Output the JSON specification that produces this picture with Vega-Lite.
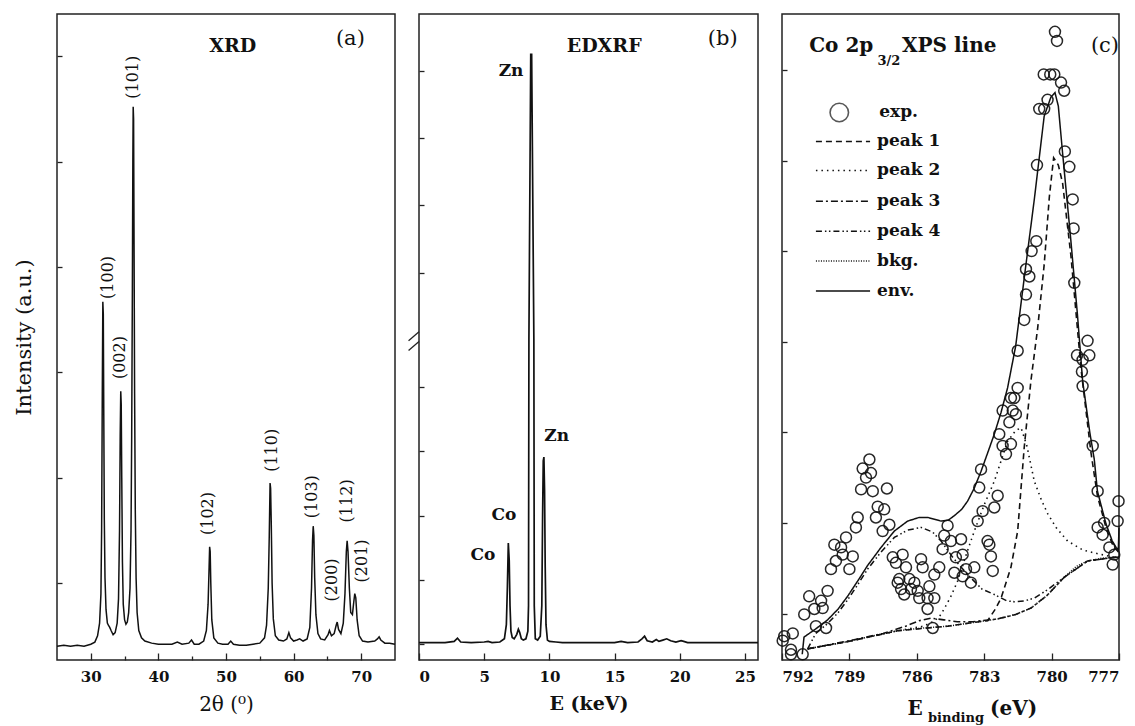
{
  "$schema": "https://vega.github.io/schema/vega-lite/v6.json",
  "padding": {"left": 12, "top": 13, "right": 0, "bottom": 0},
  "bounds": "flush",
  "spacing": 24,
  "config": {
    "view": {"stroke": "#222", "strokeWidth": 1.5},
    "font": "DejaVu Serif",
    "axis": {
      "domain": false, "grid": false,
      "labelFont": "DejaVu Serif", "labelFontSize": 15, "labelFontWeight": "bold", "labelColor": "#111",
      "tickColor": "#222", "tickWidth": 1.3,
      "titleFont": "DejaVu Serif", "titleColor": "#111", "titleFontWeight": "normal"
    },
    "text": {"color": "#111"}
  },
  "datasets": {
    "xrd": [
      {"x":25.0,"y":0.40},{"x":26.0,"y":0.41},{"x":27.0,"y":0.40},{"x":28.0,"y":0.41},{"x":29.0,"y":0.40},{"x":30.0,"y":0.42},
      {"x":30.6,"y":0.44},{"x":31.0,"y":0.50},{"x":31.3,"y":0.62},{"x":31.5,"y":0.90},{"x":31.6,"y":1.50},{"x":31.7,"y":2.80},
      {"x":31.78,"y":3.67},{"x":31.85,"y":3.55},{"x":31.92,"y":2.60},{"x":32.0,"y":1.60},{"x":32.1,"y":1.05},{"x":32.25,"y":0.75},
      {"x":32.45,"y":0.62},{"x":32.6,"y":0.60},{"x":32.8,"y":0.58},{"x":33.0,"y":0.55},{"x":33.3,"y":0.51},{"x":33.6,"y":0.53},
      {"x":33.9,"y":0.62},{"x":34.1,"y":0.85},{"x":34.25,"y":1.50},{"x":34.35,"y":2.40},{"x":34.43,"y":2.82},{"x":34.5,"y":2.70},
      {"x":34.58,"y":2.00},{"x":34.68,"y":1.20},{"x":34.8,"y":0.80},{"x":35.0,"y":0.65},{"x":35.2,"y":0.61},{"x":35.4,"y":0.63},
      {"x":35.6,"y":0.72},{"x":35.8,"y":0.95},{"x":35.95,"y":1.50},{"x":36.05,"y":2.40},{"x":36.15,"y":3.80},{"x":36.22,"y":5.00},
      {"x":36.27,"y":5.52},{"x":36.33,"y":5.40},{"x":36.4,"y":4.20},{"x":36.48,"y":2.80},{"x":36.58,"y":1.70},{"x":36.7,"y":1.05},
      {"x":36.85,"y":0.72},{"x":37.1,"y":0.55},{"x":37.5,"y":0.48},{"x":38.0,"y":0.45},{"x":39.0,"y":0.43},{"x":40.0,"y":0.42},
      {"x":41.0,"y":0.42},{"x":42.0,"y":0.42},{"x":42.8,"y":0.44},{"x":43.5,"y":0.42},{"x":44.5,"y":0.43},{"x":44.9,"y":0.46},
      {"x":45.3,"y":0.42},{"x":46.0,"y":0.42},{"x":46.7,"y":0.45},{"x":47.1,"y":0.55},{"x":47.35,"y":0.80},{"x":47.5,"y":1.15},
      {"x":47.58,"y":1.345},{"x":47.66,"y":1.30},{"x":47.75,"y":1.00},{"x":47.9,"y":0.65},{"x":48.2,"y":0.48},{"x":48.8,"y":0.43},
      {"x":49.5,"y":0.42},{"x":50.3,"y":0.42},{"x":50.7,"y":0.45},{"x":51.1,"y":0.42},{"x":52.0,"y":0.41},{"x":53.0,"y":0.41},
      {"x":54.0,"y":0.42},{"x":55.0,"y":0.43},{"x":55.7,"y":0.48},{"x":56.0,"y":0.60},{"x":56.25,"y":0.95},{"x":56.4,"y":1.45},
      {"x":56.52,"y":1.95},{"x":56.6,"y":1.90},{"x":56.7,"y":1.55},{"x":56.82,"y":1.00},{"x":57.0,"y":0.66},{"x":57.3,"y":0.50},
      {"x":57.8,"y":0.46},{"x":58.5,"y":0.45},{"x":59.0,"y":0.47},{"x":59.3,"y":0.53},{"x":59.55,"y":0.48},{"x":60.0,"y":0.45},
      {"x":60.5,"y":0.46},{"x":60.9,"y":0.47},{"x":61.4,"y":0.45},{"x":62.0,"y":0.47},{"x":62.4,"y":0.58},{"x":62.65,"y":0.95},
      {"x":62.8,"y":1.40},{"x":62.9,"y":1.54},{"x":63.0,"y":1.45},{"x":63.12,"y":1.05},{"x":63.3,"y":0.70},{"x":63.6,"y":0.52},
      {"x":64.0,"y":0.47},{"x":64.6,"y":0.46},{"x":65.1,"y":0.51},{"x":65.3,"y":0.55},{"x":65.6,"y":0.50},{"x":66.0,"y":0.52},
      {"x":66.3,"y":0.60},{"x":66.45,"y":0.63},{"x":66.65,"y":0.56},{"x":67.0,"y":0.52},{"x":67.35,"y":0.62},{"x":67.6,"y":0.90},
      {"x":67.8,"y":1.30},{"x":67.92,"y":1.40},{"x":68.05,"y":1.30},{"x":68.25,"y":0.95},{"x":68.45,"y":0.72},{"x":68.7,"y":0.70},
      {"x":68.9,"y":0.82},{"x":69.05,"y":0.90},{"x":69.2,"y":0.86},{"x":69.4,"y":0.65},{"x":69.7,"y":0.50},{"x":70.2,"y":0.45},
      {"x":71.0,"y":0.44},{"x":72.0,"y":0.45},{"x":72.4,"y":0.47},{"x":72.65,"y":0.49},{"x":72.9,"y":0.46},{"x":73.5,"y":0.43},
      {"x":74.2,"y":0.43},{"x":75.0,"y":0.42}
    ],
    "edxrf": [
      {"x":0.0,"y":0.02},{"x":1.0,"y":0.02},{"x":2.0,"y":0.02},{"x":2.7,"y":0.04},{"x":2.95,"y":0.09},{"x":3.2,"y":0.03},
      {"x":4.0,"y":0.02},{"x":5.0,"y":0.03},{"x":5.3,"y":0.04},{"x":5.6,"y":0.02},{"x":6.2,"y":0.03},{"x":6.55,"y":0.08},
      {"x":6.7,"y":0.3},{"x":6.78,"y":0.9},{"x":6.85,"y":1.57},{"x":6.92,"y":1.30},{"x":6.98,"y":0.6},{"x":7.05,"y":0.2},
      {"x":7.15,"y":0.1},{"x":7.3,"y":0.08},{"x":7.5,"y":0.15},{"x":7.62,"y":0.23},{"x":7.72,"y":0.18},{"x":7.85,"y":0.08},
      {"x":8.0,"y":0.06},{"x":8.2,"y":0.08},{"x":8.35,"y":0.2},{"x":8.40,"y":0.6},{"x":8.43,"y":4.75},{"x":8.57,"y":9.18},
      {"x":8.64,"y":9.18},{"x":8.81,"y":4.75},{"x":8.84,"y":0.6},{"x":8.92,"y":0.08},{"x":9.1,"y":0.06},{"x":9.3,"y":0.12},
      {"x":9.42,"y":0.6},{"x":9.48,"y":2.0},{"x":9.53,"y":2.85},{"x":9.58,"y":2.91},{"x":9.63,"y":2.4},{"x":9.68,"y":1.2},
      {"x":9.74,"y":0.3},{"x":9.85,"y":0.06},{"x":10.0,"y":0.04},{"x":10.5,"y":0.03},{"x":11.0,"y":0.02},{"x":12.0,"y":0.02},
      {"x":13.0,"y":0.02},{"x":14.0,"y":0.02},{"x":15.0,"y":0.02},{"x":15.5,"y":0.04},{"x":16.0,"y":0.02},{"x":16.8,"y":0.03},
      {"x":17.1,"y":0.08},{"x":17.3,"y":0.12},{"x":17.5,"y":0.05},{"x":17.9,"y":0.03},{"x":18.2,"y":0.07},{"x":18.4,"y":0.04},
      {"x":18.7,"y":0.06},{"x":19.0,"y":0.08},{"x":19.3,"y":0.05},{"x":19.7,"y":0.03},{"x":20.1,"y":0.05},{"x":20.3,"y":0.04},
      {"x":20.6,"y":0.02},{"x":21.5,"y":0.02},{"x":23.0,"y":0.02},{"x":24.0,"y":0.02},{"x":25.0,"y":0.02},{"x":26.0,"y":0.02}
    ],
    "xpsPoints": [
      {"x":788.11,"y":2.70},{"x":788.41,"y":2.60},{"x":788.04,"y":2.55},{"x":788.26,"y":2.50},{"x":788.48,"y":2.37},{"x":787.96,"y":2.35},
      {"x":787.33,"y":2.38},{"x":787.74,"y":2.18},{"x":787.45,"y":2.15},{"x":787.82,"y":2.06},{"x":787.22,"y":1.98},{"x":787.52,"y":1.91},
      {"x":788.63,"y":2.06},{"x":788.71,"y":1.95},{"x":789.15,"y":1.84},{"x":789.67,"y":1.76},{"x":789.37,"y":1.73},{"x":788.85,"y":1.63},
      {"x":789.30,"y":1.65},{"x":789.60,"y":1.58},{"x":789.82,"y":1.49},{"x":789.00,"y":1.49},{"x":790.79,"y":1.19},{"x":790.26,"y":1.14},
      {"x":789.97,"y":1.25},{"x":790.56,"y":1.05},{"x":790.19,"y":1.06},{"x":791.01,"y":0.99},{"x":790.49,"y":0.86},{"x":790.04,"y":0.84},
      {"x":791.52,"y":0.78},{"x":791.60,"y":0.55},{"x":791.08,"y":0.55},{"x":791.97,"y":0.70},{"x":787.07,"y":1.62},{"x":786.93,"y":1.56},
      {"x":786.63,"y":1.65},{"x":786.48,"y":1.51},{"x":786.78,"y":1.38},{"x":786.33,"y":1.38},{"x":786.70,"y":1.27},{"x":786.26,"y":1.27},
      {"x":786.11,"y":1.34},{"x":785.96,"y":1.25},{"x":785.81,"y":1.60},{"x":785.74,"y":1.51},{"x":785.52,"y":1.17},{"x":785.22,"y":1.17},
      {"x":785.52,"y":1.05},{"x":785.44,"y":1.30},{"x":785.00,"y":1.51},{"x":785.29,"y":0.84},{"x":784.63,"y":1.97},{"x":784.78,"y":1.86},
      {"x":784.48,"y":1.80},{"x":784.85,"y":1.71},{"x":784.03,"y":1.82},{"x":784.26,"y":1.62},{"x":783.96,"y":1.65},{"x":784.33,"y":1.45},
      {"x":783.81,"y":1.49},{"x":783.44,"y":1.51},{"x":783.59,"y":1.34},{"x":783.96,"y":1.41},{"x":783.29,"y":2.02},{"x":783.07,"y":2.13},
      {"x":782.55,"y":2.17},{"x":782.40,"y":2.30},{"x":782.85,"y":1.80},{"x":782.77,"y":1.76},{"x":782.70,"y":1.63},{"x":782.62,"y":1.47},
      {"x":783.14,"y":2.59},{"x":783.22,"y":2.39},{"x":782.33,"y":2.98},{"x":782.18,"y":2.85},{"x":781.81,"y":2.87},{"x":782.03,"y":2.76},
      {"x":781.59,"y":3.20},{"x":781.66,"y":3.38},{"x":781.51,"y":3.49},{"x":778.17,"y":2.85},{"x":777.95,"y":2.35},{"x":777.95,"y":1.95},
      {"x":777.66,"y":2.00},{"x":777.73,"y":1.87},{"x":777.43,"y":1.73},{"x":777.21,"y":1.65},{"x":777.28,"y":1.54},{"x":777.06,"y":2.02},
      {"x":777.02,"y":2.24},{"x":778.62,"y":3.51},{"x":779.85,"y":7.42},{"x":779.76,"y":7.32},{"x":780.35,"y":6.95},{"x":780.06,"y":6.95},
      {"x":779.88,"y":6.95},{"x":779.58,"y":6.86},{"x":779.44,"y":6.77},{"x":780.18,"y":6.67},{"x":780.55,"y":6.57},{"x":780.33,"y":6.57},
      {"x":779.41,"y":6.10},{"x":779.21,"y":5.93},{"x":780.65,"y":5.95},{"x":779.06,"y":5.57},{"x":779.02,"y":5.25},{"x":780.68,"y":5.11},
      {"x":780.89,"y":5.00},{"x":781.14,"y":4.80},{"x":780.99,"y":4.72},{"x":781.14,"y":4.52},{"x":781.22,"y":4.24},{"x":778.99,"y":4.65},
      {"x":778.40,"y":4.01},{"x":778.87,"y":3.85},{"x":778.62,"y":3.80},{"x":778.32,"y":3.85},{"x":778.65,"y":3.67},{"x":781.51,"y":3.90},
      {"x":781.81,"y":3.38},{"x":782.18,"y":3.24},{"x":781.73,"y":3.24},{"x":781.88,"y":3.11},{"x":791.90,"y":0.75},{"x":791.60,"y":0.60},
      {"x":786.85,"y":1.34},{"x":786.56,"y":1.21},{"x":785.22,"y":1.43},{"x":785.89,"y":1.17}
    ],
    "xpsLines": [
      {"s":"env.","x":791.10,"y":0.55},{"s":"env.","x":791.02,"y":0.74},{"s":"env.","x":790.5,"y":0.83},{"s":"env.","x":789.97,"y":0.93},
      {"s":"env.","x":789.5,"y":1.05},{"s":"env.","x":789.08,"y":1.19},{"s":"env.","x":788.6,"y":1.37},{"s":"env.","x":788.19,"y":1.53},
      {"s":"env.","x":787.59,"y":1.73},{"s":"env.","x":787.0,"y":1.91},{"s":"env.","x":786.41,"y":2.02},{"s":"env.","x":785.9,"y":2.06},
      {"s":"env.","x":785.5,"y":2.06},{"s":"env.","x":784.92,"y":2.02},{"s":"env.","x":784.6,"y":2.03},{"s":"env.","x":784.33,"y":2.08},
      {"s":"env.","x":784.0,"y":2.15},{"s":"env.","x":783.74,"y":2.24},{"s":"env.","x":783.45,"y":2.38},{"s":"env.","x":783.14,"y":2.57},
      {"s":"env.","x":782.85,"y":2.77},{"s":"env.","x":782.55,"y":2.98},{"s":"env.","x":782.25,"y":3.22},{"s":"env.","x":781.96,"y":3.49},
      {"s":"env.","x":781.6,"y":3.95},{"s":"env.","x":781.22,"y":4.70},{"s":"env.","x":780.77,"y":5.57},{"s":"env.","x":780.33,"y":6.49},
      {"s":"env.","x":780.03,"y":6.70},{"s":"env.","x":779.85,"y":6.75},{"s":"env.","x":779.7,"y":6.6},{"s":"env.","x":779.51,"y":6.08},
      {"s":"env.","x":779.14,"y":5.11},{"s":"env.","x":778.85,"y":4.3},{"s":"env.","x":778.62,"y":3.57},{"s":"env.","x":778.3,"y":3.0},
      {"s":"env.","x":778.1,"y":2.7},{"s":"env.","x":777.96,"y":2.35},{"s":"env.","x":777.58,"y":1.99},{"s":"env.","x":777.3,"y":1.80},
      {"s":"env.","x":777.13,"y":1.73},{"s":"env.","x":777.03,"y":1.70},{"s":"env.","x":777.0,"y":1.95},

      {"s":"bkg.","x":790.86,"y":0.61},{"s":"bkg.","x":790.0,"y":0.65},{"s":"bkg.","x":789.08,"y":0.69},{"s":"bkg.","x":788.0,"y":0.75},
      {"s":"bkg.","x":786.85,"y":0.81},{"s":"bkg.","x":785.7,"y":0.84},{"s":"bkg.","x":784.63,"y":0.86},{"s":"bkg.","x":783.5,"y":0.90},
      {"s":"bkg.","x":782.4,"y":0.94},{"s":"bkg.","x":781.6,"y":0.99},{"s":"bkg.","x":780.92,"y":1.06},{"s":"bkg.","x":780.2,"y":1.20},
      {"s":"bkg.","x":779.44,"y":1.40},{"s":"bkg.","x":778.9,"y":1.52},{"s":"bkg.","x":778.4,"y":1.58},{"s":"bkg.","x":777.8,"y":1.61},
      {"s":"bkg.","x":777.21,"y":1.62},{"s":"bkg.","x":777.0,"y":1.62},

      {"s":"peak 1","x":790.86,"y":0.61},{"s":"peak 1","x":789.08,"y":0.69},{"s":"peak 1","x":786.85,"y":0.81},{"s":"peak 1","x":784.63,"y":0.86},
      {"s":"peak 1","x":783.5,"y":0.90},{"s":"peak 1","x":782.85,"y":0.92},{"s":"peak 1","x":782.5,"y":1.05},{"s":"peak 1","x":782.25,"y":1.17},
      {"s":"peak 1","x":781.81,"y":1.51},{"s":"peak 1","x":781.51,"y":1.91},{"s":"peak 1","x":781.22,"y":2.83},{"s":"peak 1","x":780.92,"y":3.57},
      {"s":"peak 1","x":780.62,"y":4.15},{"s":"peak 1","x":780.33,"y":4.85},{"s":"peak 1","x":780.1,"y":5.6},{"s":"peak 1","x":779.91,"y":6.03},
      {"s":"peak 1","x":779.7,"y":5.95},{"s":"peak 1","x":779.51,"y":5.75},{"s":"peak 1","x":779.14,"y":4.95},{"s":"peak 1","x":778.69,"y":3.70},
      {"s":"peak 1","x":778.25,"y":2.78},{"s":"peak 1","x":777.96,"y":2.30},{"s":"peak 1","x":777.58,"y":1.95},{"s":"peak 1","x":777.3,"y":1.77},
      {"s":"peak 1","x":777.03,"y":1.68},

      {"s":"peak 2","x":790.86,"y":0.61},{"s":"peak 2","x":789.08,"y":0.69},{"s":"peak 2","x":786.85,"y":0.81},{"s":"peak 2","x":785.7,"y":0.86},
      {"s":"peak 2","x":785.2,"y":0.92},{"s":"peak 2","x":784.92,"y":0.99},{"s":"peak 2","x":784.5,"y":1.18},{"s":"peak 2","x":784.18,"y":1.36},
      {"s":"peak 2","x":783.8,"y":1.65},{"s":"peak 2","x":783.44,"y":1.91},{"s":"peak 2","x":783.0,"y":2.2},{"s":"peak 2","x":782.55,"y":2.46},
      {"s":"peak 2","x":781.96,"y":2.90},{"s":"peak 2","x":781.6,"y":3.02},{"s":"peak 2","x":781.36,"y":3.05},{"s":"peak 2","x":781.1,"y":2.85},
      {"s":"peak 2","x":780.77,"y":2.46},{"s":"peak 2","x":780.45,"y":2.25},{"s":"peak 2","x":780.17,"y":2.10},{"s":"peak 2","x":779.8,"y":1.95},
      {"s":"peak 2","x":779.29,"y":1.80},{"s":"peak 2","x":778.6,"y":1.70},{"s":"peak 2","x":777.95,"y":1.66},{"s":"peak 2","x":777.21,"y":1.62},
      {"s":"peak 2","x":777.0,"y":1.62},

      {"s":"peak 3","x":790.86,"y":0.61},{"s":"peak 3","x":789.0,"y":0.70},{"s":"peak 3","x":787.5,"y":0.78},{"s":"peak 3","x":786.5,"y":0.86},
      {"s":"peak 3","x":785.9,"y":0.92},{"s":"peak 3","x":785.37,"y":0.95},{"s":"peak 3","x":784.8,"y":0.93},{"s":"peak 3","x":784.2,"y":0.91},
      {"s":"peak 3","x":783.5,"y":0.91},{"s":"peak 3","x":782.4,"y":0.94},{"s":"peak 3","x":781.6,"y":0.99},{"s":"peak 3","x":780.92,"y":1.06},
      {"s":"peak 3","x":780.2,"y":1.20},{"s":"peak 3","x":779.44,"y":1.40},{"s":"peak 3","x":778.4,"y":1.58},{"s":"peak 3","x":777.21,"y":1.62},
      {"s":"peak 3","x":777.0,"y":1.62},

      {"s":"peak 4","x":790.86,"y":0.61},{"s":"peak 4","x":790.5,"y":0.78},{"s":"peak 4","x":789.97,"y":0.89},{"s":"peak 4","x":789.5,"y":1.01},
      {"s":"peak 4","x":789.08,"y":1.15},{"s":"peak 4","x":788.6,"y":1.33},{"s":"peak 4","x":788.19,"y":1.49},{"s":"peak 4","x":787.59,"y":1.68},
      {"s":"peak 4","x":787.0,"y":1.84},{"s":"peak 4","x":786.41,"y":1.92},{"s":"peak 4","x":785.8,"y":1.95},{"s":"peak 4","x":785.3,"y":1.90},
      {"s":"peak 4","x":784.92,"y":1.80},{"s":"peak 4","x":784.4,"y":1.62},{"s":"peak 4","x":783.74,"y":1.43},{"s":"peak 4","x":783.1,"y":1.27},
      {"s":"peak 4","x":782.55,"y":1.21},{"s":"peak 4","x":782.0,"y":1.14},{"s":"peak 4","x":781.66,"y":1.13},{"s":"peak 4","x":781.2,"y":1.14},
      {"s":"peak 4","x":780.77,"y":1.17},{"s":"peak 4","x":780.2,"y":1.26},{"s":"peak 4","x":779.44,"y":1.40},{"s":"peak 4","x":778.4,"y":1.58},
      {"s":"peak 4","x":777.21,"y":1.62},{"s":"peak 4","x":777.0,"y":1.62}
    ]
  },
  "hconcat": [
    {
      "width": 338, "height": 646,
      "layer": [
        {
          "data": {"name": "xrd"},
          "mark": {"type": "line", "color": "#111", "strokeWidth": 1.5},
          "encoding": {
            "x": {"field": "x", "type": "quantitative",
              "scale": {"domain": [25, 75], "nice": false, "zero": false},
              "axis": {"values": [30,35,40,45,50,55,60,65,70], "title": "2θ (⁰)",
                "labelExpr": "datum.value % 10 === 0 ? datum.label : ''",
                "tickSize": {"condition": {"test": "datum.value % 10 === 0", "value": -7}, "value": -4},
                "labelPadding": 16, "titleFontSize": 20, "titlePadding": 10}},
            "y": {"field": "y", "type": "quantitative",
              "scale": {"domain": [0.27, 6.4], "nice": false, "zero": false},
              "axis": {"values": [1,2,3,4,5,6], "labels": false, "tickSize": -5,
                "title": "Intensity (a.u.)", "titleFontSize": 21, "titlePadding": 22}}
          }
        },
        {
          "data": {"values": [
            {"x":32.5,"y":3.90,"t":"(100)"},{"x":34.26,"y":3.14,"t":"(002)"},{"x":36.18,"y":5.80,"t":"(101)"},
            {"x":47.35,"y":1.66,"t":"(102)"},{"x":56.76,"y":2.26,"t":"(110)"},{"x":62.79,"y":1.82,"t":"(103)"},
            {"x":65.74,"y":1.03,"t":"(200)"},{"x":67.94,"y":1.78,"t":"(112)"},{"x":70.15,"y":1.21,"t":"(201)"}
          ]},
          "mark": {"type": "text", "angle": 270, "fontSize": 16, "align": "center", "baseline": "middle"},
          "encoding": {"x": {"field": "x", "type": "quantitative"}, "y": {"field": "y", "type": "quantitative"}, "text": {"field": "t"}}
        },
        {
          "data": {"values": [{"x":51.0,"y":6.10,"t":"XRD"}]},
          "mark": {"type": "text", "fontSize": 19, "fontWeight": "bold", "align": "center", "baseline": "middle"},
          "encoding": {"x": {"field": "x", "type": "quantitative"}, "y": {"field": "y", "type": "quantitative"}, "text": {"field": "t"}}
        },
        {
          "data": {"values": [{"x":68.4,"y":6.16,"t":"(a)"}]},
          "mark": {"type": "text", "fontSize": 21, "align": "center", "baseline": "middle"},
          "encoding": {"x": {"field": "x", "type": "quantitative"}, "y": {"field": "y", "type": "quantitative"}, "text": {"field": "t"}}
        }
      ]
    },
    {
      "width": 339, "height": 646,
      "layer": [
        {
          "data": {"name": "edxrf"},
          "mark": {"type": "line", "color": "#111", "strokeWidth": 1.7},
          "encoding": {
            "x": {"field": "x", "type": "quantitative",
              "scale": {"domain": [0, 26], "nice": false, "zero": false},
              "axis": {"values": [0,2.5,5,7.5,10,12.5,15,17.5,20,22.5,25], "title": "E (keV)",
                "labelExpr": "datum.value % 5 === 0 ? datum.label : ''",
                "tickSize": {"condition": {"test": "datum.value % 5 === 0", "value": -7}, "value": -4},
                "labelPadding": 16, "titleFontSize": 19, "titleFontWeight": "bold", "titlePadding": 10}},
            "y": {"field": "y", "type": "quantitative",
              "scale": {"domain": [-0.25, 9.81], "nice": false, "zero": false},
              "axis": {"values": [0,1,2,3,4,5.78,6.84,7.88,8.93], "labels": false, "tickSize": -5, "title": null}}
          }
        },
        {
          "data": {"values": [{"x1":-0.8,"x2":0.0,"y1":4.72,"y2":4.86},{"x1":-0.8,"x2":0.0,"y1":4.57,"y2":4.71}]},
          "mark": {"type": "rule", "color": "#222", "strokeWidth": 1.3},
          "encoding": {"x": {"field": "x1", "type": "quantitative"}, "x2": {"field": "x2"}, "y": {"field": "y1", "type": "quantitative"}, "y2": {"field": "y2"}}
        },
        {
          "data": {"values": [{"x":14.2,"y":9.31,"t":"EDXRF"}]},
          "mark": {"type": "text", "fontSize": 19, "fontWeight": "bold", "align": "center", "baseline": "middle"},
          "encoding": {"x": {"field": "x", "type": "quantitative"}, "y": {"field": "y", "type": "quantitative"}, "text": {"field": "t"}}
        },
        {
          "data": {"values": [{"x":23.3,"y":9.42,"t":"(b)"}]},
          "mark": {"type": "text", "fontSize": 21, "align": "center", "baseline": "middle"},
          "encoding": {"x": {"field": "x", "type": "quantitative"}, "y": {"field": "y", "type": "quantitative"}, "text": {"field": "t"}}
        },
        {
          "data": {"values": [{"x":7.06,"y":8.93,"t":"Zn"},{"x":10.56,"y":3.24,"t":"Zn"},{"x":6.52,"y":2.01,"t":"Co"},{"x":4.91,"y":1.39,"t":"Co"}]},
          "mark": {"type": "text", "fontSize": 17, "fontWeight": "bold", "align": "center", "baseline": "middle"},
          "encoding": {"x": {"field": "x", "type": "quantitative"}, "y": {"field": "y", "type": "quantitative"}, "text": {"field": "t"}}
        }
      ]
    },
    {
      "width": 337, "height": 646,
      "layer": [
        {
          "data": {"name": "xpsLines"},
          "mark": {"type": "line", "color": "#111"},
          "encoding": {
            "x": {"field": "x", "type": "quantitative",
              "scale": {"domain": [777, 792], "reverse": true, "nice": false, "zero": false},
              "axis": {"values": [777,778.5,780,781.5,783,784.5,786,787.5,789,790.5,792], "title": null,
                "labelExpr": "datum.value % 3 === 0 ? datum.label : ''",
                "tickSize": {"condition": {"test": "datum.value % 3 === 0", "value": -7}, "value": -4},
                "labelPadding": 16}},
            "y": {"field": "y", "type": "quantitative",
              "scale": {"domain": [0.487, 7.617], "nice": false, "zero": false},
              "axis": {"values": [1,2,3,4,5,6,7], "labels": false, "tickSize": -5, "title": null}},
            "strokeDash": {"field": "s", "type": "nominal", "legend": null,
              "scale": {"domain": ["peak 1","peak 2","peak 3","peak 4","bkg.","env."],
                "range": [[6,4],[1.5,4],[7,3,2,3],[6,3,1.5,2.5,1.5,3],[1,1.5],[1,0]]}},
            "strokeWidth": {"field": "s", "type": "nominal", "legend": null,
              "scale": {"domain": ["peak 1","peak 2","peak 3","peak 4","bkg.","env."], "range": [1.6,1.5,1.5,1.4,0.8,1.9]}}
          }
        },
        {
          "data": {"name": "xpsPoints"},
          "mark": {"type": "point", "shape": "circle", "filled": false, "color": "#111", "strokeWidth": 1.5, "size": 120, "opacity": 0.9},
          "encoding": {"x": {"field": "x", "type": "quantitative"}, "y": {"field": "y", "type": "quantitative"}}
        },
        {
          "data": {"values": [
            {"s":"peak 1","x1":790.49,"x2":788.08,"y":6.21},{"s":"peak 2","x1":790.49,"x2":788.08,"y":5.89},
            {"s":"peak 3","x1":790.49,"x2":788.08,"y":5.55},{"s":"peak 4","x1":790.49,"x2":788.08,"y":5.22},
            {"s":"bkg.","x1":790.49,"x2":788.08,"y":4.89},{"s":"env.","x1":790.49,"x2":788.08,"y":4.56}
          ]},
          "mark": {"type": "rule", "color": "#111"},
          "encoding": {"x": {"field": "x1", "type": "quantitative"}, "x2": {"field": "x2"}, "y": {"field": "y", "type": "quantitative"},
            "strokeDash": {"field": "s", "type": "nominal", "legend": null},
            "strokeWidth": {"field": "s", "type": "nominal", "legend": null}}
        },
        {
          "data": {"values": [{"x":789.45,"y":6.53}]},
          "mark": {"type": "point", "shape": "circle", "filled": false, "color": "#111", "strokeWidth": 1.6, "size": 340},
          "encoding": {"x": {"field": "x", "type": "quantitative"}, "y": {"field": "y", "type": "quantitative"}}
        },
        {
          "data": {"values": [
            {"x":787.67,"y":6.53,"t":"exp."},{"x":787.77,"y":6.21,"t":"peak 1"},{"x":787.77,"y":5.89,"t":"peak 2"},
            {"x":787.77,"y":5.55,"t":"peak 3"},{"x":787.77,"y":5.22,"t":"peak 4"},{"x":787.77,"y":4.89,"t":"bkg."},{"x":787.77,"y":4.56,"t":"env."}
          ]},
          "mark": {"type": "text", "fontSize": 17, "fontWeight": "bold", "align": "left", "baseline": "middle"},
          "encoding": {"x": {"field": "x", "type": "quantitative"}, "y": {"field": "y", "type": "quantitative"}, "text": {"field": "t"}}
        },
        {
          "data": {"values": [{"x":790.79,"y":7.26,"t":"Co 2p"},{"x":786.66,"y":7.26,"t":"XPS line"}]},
          "mark": {"type": "text", "fontSize": 20, "fontWeight": "bold", "align": "left", "baseline": "middle"},
          "encoding": {"x": {"field": "x", "type": "quantitative"}, "y": {"field": "y", "type": "quantitative"}, "text": {"field": "t"}}
        },
        {
          "data": {"values": [{"x":778.25,"y":7.26,"t":"(c)"}]},
          "mark": {"type": "text", "fontSize": 21, "align": "left", "baseline": "middle"},
          "encoding": {"x": {"field": "x", "type": "quantitative"}, "y": {"field": "y", "type": "quantitative"}, "text": {"field": "t"}}
        },
        {
          "data": {"values": [{"x":787.75,"y":7.1,"t":"3/2"}]},
          "mark": {"type": "text", "fontSize": 13, "fontWeight": "bold", "align": "left", "baseline": "middle"},
          "encoding": {"x": {"field": "x", "type": "quantitative"}, "y": {"field": "y", "type": "quantitative"}, "text": {"field": "t"}}
        },
        {
          "data": {"values": [{"x":786.08,"y":-0.054,"t":"E"}]},
          "mark": {"type": "text", "fontSize": 20, "fontWeight": "bold", "align": "center", "baseline": "middle"},
          "encoding": {"x": {"field": "x", "type": "quantitative"}, "y": {"field": "y", "type": "quantitative"}, "text": {"field": "t"}}
        },
        {
          "data": {"values": [{"x":785.50,"y":-0.15,"t":"binding"}]},
          "mark": {"type": "text", "fontSize": 13, "fontWeight": "bold", "align": "left", "baseline": "middle"},
          "encoding": {"x": {"field": "x", "type": "quantitative"}, "y": {"field": "y", "type": "quantitative"}, "text": {"field": "t"}}
        },
        {
          "data": {"values": [{"x":782.74,"y":-0.054,"t":"(eV)"}]},
          "mark": {"type": "text", "fontSize": 20, "fontWeight": "bold", "align": "left", "baseline": "middle"},
          "encoding": {"x": {"field": "x", "type": "quantitative"}, "y": {"field": "y", "type": "quantitative"}, "text": {"field": "t"}}
        }
      ]
    }
  ]
}
